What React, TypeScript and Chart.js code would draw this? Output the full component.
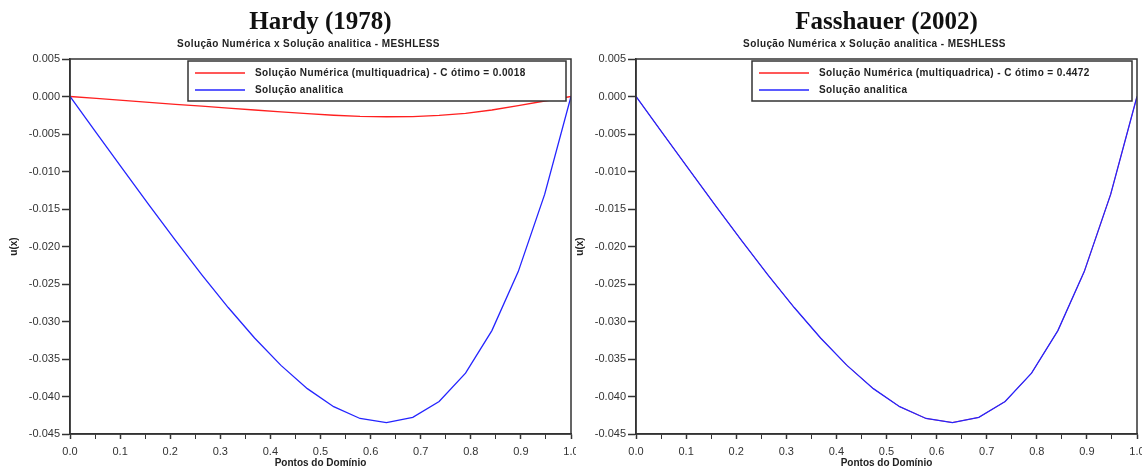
import React, { useEffect, useRef } from "react";
import { Chart, registerables } from "chart.js";

Chart.register(...registerables);

// ---- data ----
const xPoints = [0, 0.0526, 0.1053, 0.1579, 0.2105, 0.2632, 0.3158, 0.3684, 0.4211, 0.4737, 0.5263, 0.5789, 0.6316, 0.6842, 0.7368, 0.7895, 0.8421, 0.8947, 0.9474, 1.0];
const analytic = [0, -0.00484, -0.00967, -0.01447, -0.01919, -0.02377, -0.02814, -0.0322, -0.03585, -0.03895, -0.04136, -0.04293, -0.04347, -0.04279, -0.04067, -0.03689, -0.03121, -0.02335, -0.01305, 0];
const hardyNumeric = [0, -0.00026, -0.00052, -0.00078, -0.00104, -0.00129, -0.00155, -0.0018, -0.00205, -0.00229, -0.0025, -0.00264, -0.0027, -0.00268, -0.00252, -0.00224, -0.0018, -0.00122, -0.0006, 0];
const fasshauerNumeric = [0, -0.00484, -0.00967, -0.01447, -0.01919, -0.02377, -0.02814, -0.0322, -0.03585, -0.03895, -0.04136, -0.04293, -0.04347, -0.04279, -0.04067, -0.03689, -0.03121, -0.02335, -0.01305, 0];

const panelTitles = ["Hardy (1978)", "Fasshauer (2002)"];
const subtitleText = "Solução Numérica x Solução analitica - MESHLESS";
const numericLabels = [
  "Solução Numérica (multiquadrica) - C ótimo = 0.0018",
  "Solução Numérica (multiquadrica) - C ótimo = 0.4472",
];
const analyticLabel = "Solução analitica";
const xAxisTitle = "Pontos do Domínio";
const yAxisTitle = "u(x)";

const AXIS = "#333333";

const framePlugin = {
  id: "frameTitleLegend",
  afterDraw(chart: any) {
    const ctx = chart.ctx as CanvasRenderingContext2D;
    const ca = chart.chartArea;
    const opts = chart.options.plugins.frameTitleLegend;
    ctx.save();
    // frame
    ctx.strokeStyle = AXIS;
    ctx.lineWidth = 1.5;
    ctx.strokeRect(ca.left, ca.top, ca.right - ca.left, ca.bottom - ca.top);
    // titles
    const cx = (ca.left + ca.right) / 2;
    ctx.fillStyle = "#111";
    ctx.textAlign = "center";
    ctx.textBaseline = "middle";
    ctx.font = "bold 25px 'Liberation Serif'";
    ctx.fillText(opts.title, cx, 23);
    ctx.font = "bold 10px 'Liberation Sans'";
    (ctx as any).letterSpacing = "0.4px";
    ctx.fillStyle = "#222";
    ctx.fillText(opts.subtitle, cx - 12, 44);
    // legend
    const boxW = opts.legendWidth;
    const x0 = ca.right - 5 - boxW;
    const y0 = ca.top + 2;
    ctx.fillStyle = "#fff";
    ctx.fillRect(x0, y0, boxW, 40);
    ctx.strokeStyle = AXIS;
    ctx.lineWidth = 1.5;
    ctx.strokeRect(x0, y0, boxW, 40);
    ctx.textAlign = "left";
    chart.data.datasets.forEach((ds: any, i: number) => {
      const y = y0 + 12 + i * 17;
      ctx.strokeStyle = ds.legendColor || ds.borderColor;
      ctx.lineWidth = 1.3;
      ctx.beginPath();
      ctx.moveTo(x0 + 7, y);
      ctx.lineTo(x0 + 57, y);
      ctx.stroke();
      ctx.fillStyle = "#222";
      ctx.fillText(ds.label, x0 + 67, y);
    });
    ctx.restore();
  },
};

function makeConfig(idx: number) {
  const numeric = idx === 0 ? hardyNumeric : fasshauerNumeric;
  const tickFont = { family: "'Liberation Sans'", size: 11 };
  return {
    type: "line" as const,
    data: {
      datasets: [
        {
          label: numericLabels[idx],
          data: xPoints.map((x, i) => ({ x, y: numeric[i] })),
          borderColor: "#ff2020",
          borderWidth: idx === 0 ? 1.3 : 0.8,
          pointRadius: 0,
          tension: 0,
          order: 2,
        },
        {
          label: analyticLabel,
          data: xPoints.map((x, i) => ({ x, y: analytic[i] })),
          borderColor: "#2424ff",
          borderWidth: 1.3,
          pointRadius: 0,
          tension: 0,
          order: 1,
        },
      ],
    },
    options: {
      responsive: false,
      animation: false,
      layout: { padding: { top: 59, right: 5, left: 0, bottom: 0 } },
      plugins: {
        legend: { display: false },
        title: { display: false },
        tooltip: { enabled: false },
        frameTitleLegend: {
          title: panelTitles[idx],
          subtitle: subtitleText,
          legendWidth: idx === 0 ? 378 : 380,
        },
      },
      scales: {
        x: {
          type: "linear",
          min: 0,
          max: 1,
          afterFit: (s: any) => {
            s.height = 34;
            s.paddingLeft = 0;
            s.paddingRight = 0;
          },
          ticks: {
            stepSize: 0.05,
            autoSkip: false,
            maxRotation: 0,
            padding: 6,
            font: tickFont,
            color: AXIS,
            callback: (v: number) => {
              const r = Math.round(v * 20);
              return r % 2 === 0 ? (r / 20).toFixed(1) : "";
            },
          },
          grid: {
            drawOnChartArea: false,
            drawTicks: true,
            tickLength: 5,
            tickColor: AXIS,
            tickWidth: (c: any) => (c.tick && Math.round(c.tick.value * 20) % 2 === 0 ? 1.5 : 1),
          },
          border: { display: true, color: AXIS, width: 1.5 },
          title: {
            display: true,
            text: xAxisTitle,
            font: { family: "'Liberation Sans'", size: 10, weight: "bold" },
            color: "#222",
            padding: { top: 0, bottom: -1 },
          },
        },
        y: {
          type: "linear",
          min: -0.045,
          max: 0.005,
          afterFit: (s: any) => {
            s.width = 70;
            s.paddingTop = 0;
            s.paddingBottom = 0;
          },
          ticks: {
            stepSize: 0.005,
            autoSkip: false,
            padding: 2,
            font: tickFont,
            color: AXIS,
            callback: (v: number) => (Math.abs(v) < 1e-9 ? "0.000" : v.toFixed(3)),
          },
          grid: {
            drawOnChartArea: false,
            drawTicks: true,
            tickLength: 8,
            tickColor: AXIS,
            tickWidth: 1.5,
          },
          border: { display: true, color: AXIS, width: 1.5 },
          title: {
            display: true,
            text: yAxisTitle,
            font: { family: "'Liberation Sans'", size: 10, weight: "bold" },
            color: "#222",
            padding: { top: 8, bottom: 0 },
          },
        },
      },
    },
    plugins: [framePlugin],
  };
}

function Panel({ idx, left }: { idx: number; left: number }) {
  const ref = useRef<HTMLCanvasElement | null>(null);
  useEffect(() => {
    if (!ref.current) return;
    const chart = new Chart(ref.current, makeConfig(idx) as any);
    return () => chart.destroy();
  }, [idx]);
  return (
    <canvas
      ref={ref}
      width={576}
      height={468}
      style={{ position: "absolute", left, top: 0, width: 576, height: 468 }}
    />
  );
}

export default function App() {
  return (
    <div
      style={{
        position: "absolute",
        left: 0,
        top: 0,
        width: 1142,
        height: 468,
        background: "#fff",
        overflow: "hidden",
      }}
    >
      <Panel idx={0} left={0} />
      <Panel idx={1} left={566} />
    </div>
  );
}
